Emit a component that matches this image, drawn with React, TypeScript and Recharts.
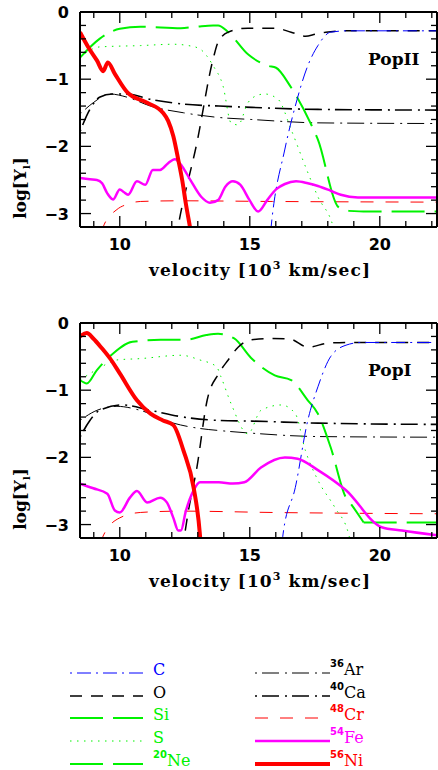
import React from "react";
import { LineChart, Line, XAxis, YAxis } from "recharts";

type Pt = [number, number];

// ---- PopII (top panel): [velocity 10^3 km/s, log Y] ----
const niII: Pt[] = [[8.47,-0.3],[8.83,-0.55],[9.12,-0.72],[9.36,-0.88],[9.54,-0.75],[9.81,-0.92],[10.3,-1.2],[11.05,-1.35],[11.66,-1.5],[11.86,-1.62],[12.06,-1.85],[12.25,-2.2],[12.4,-2.5],[12.54,-2.85],[12.7,-3.2],[12.79,-3.4]];
const feII: Pt[] = [[8.47,-2.47],[8.85,-2.49],[9.12,-2.5],[9.32,-2.55],[9.52,-2.7],[9.74,-2.79],[10.0,-2.64],[10.15,-2.68],[10.32,-2.72],[10.66,-2.52],[10.98,-2.57],[11.27,-2.35],[11.55,-2.35],[11.86,-2.25],[12.12,-2.19],[12.4,-2.3],[12.7,-2.49],[13.13,-2.75],[13.47,-2.84],[13.78,-2.8],[14.06,-2.6],[14.35,-2.52],[14.63,-2.57],[14.99,-2.8],[15.32,-2.97],[15.67,-2.8],[16.01,-2.64],[16.35,-2.56],[16.78,-2.52],[17.23,-2.55],[17.62,-2.59],[18.11,-2.66],[18.5,-2.72],[19.16,-2.76],[22.4,-2.76]];
const oII: Pt[] = [[12.15,-3.4],[12.24,-3.2],[12.97,-1.94],[13.59,-0.7],[13.78,-0.45],[14.17,-0.3],[14.93,-0.24],[15.96,-0.24],[16.59,-0.3],[17.14,-0.36],[17.53,-0.33],[17.92,-0.3],[18.8,-0.28],[22.4,-0.28]];
const cII: Pt[] = [[15.77,-3.4],[15.82,-3.2],[16.35,-2.04],[16.75,-1.4],[17.23,-0.8],[17.62,-0.5],[18.11,-0.3],[18.8,-0.28],[22.4,-0.28]];
const siII: Pt[] = [[8.47,-0.68],[9.22,-0.4],[10.0,-0.25],[10.79,-0.22],[12.35,-0.24],[12.94,-0.22],[13.59,-0.2],[13.78,-0.2],[14.17,-0.3],[14.93,-0.63],[15.7,-0.8],[16.01,-0.83],[16.55,-1.1],[17.33,-1.65],[17.62,-1.9],[18.4,-2.9],[18.8,-2.96]];
const neII: Pt[] = [[18.8,-2.96],[19.5,-2.97],[22.4,-2.97]];
const sII: Pt[] = [[8.47,-0.68],[8.73,-0.6],[9.22,-0.52],[10.79,-0.5],[12.06,-0.48],[12.64,-0.5],[13.08,-0.55],[13.59,-0.8],[13.97,-1.1],[14.28,-1.65],[14.55,-1.68],[14.93,-1.35],[15.23,-1.25],[15.57,-1.22],[16.09,-1.3],[16.59,-1.75],[17.14,-2.3],[17.62,-2.75],[18.21,-3.2],[18.31,-3.35]];
const caII: Pt[] = [[8.47,-1.78],[8.85,-1.45],[9.22,-1.27],[9.71,-1.22],[10.3,-1.22],[11.18,-1.3],[12.45,-1.37],[13.81,-1.4],[15.08,-1.42],[17.62,-1.45],[22.4,-1.46]];
const arII: Pt[] = [[8.47,-1.52],[8.98,-1.35],[9.61,-1.22],[10.3,-1.27],[11.18,-1.4],[12.45,-1.5],[13.81,-1.57],[15.08,-1.6],[17.62,-1.65],[22.4,-1.66]];
const crII: Pt[] = [[9.27,-3.3],[9.36,-3.2],[9.89,-2.94],[10.3,-2.86],[10.79,-2.82],[12.35,-2.81],[15.87,-2.82],[22.4,-2.83]];

// ---- PopI (bottom panel) ----
const niI: Pt[] = [[8.47,-0.2],[8.73,-0.15],[8.98,-0.23],[9.32,-0.38],[9.61,-0.52],[10.0,-0.75],[10.66,-1.15],[11.18,-1.35],[11.66,-1.45],[12.06,-1.52],[12.45,-1.9],[12.84,-2.45],[13.08,-3.14],[13.13,-3.4]];
const feI: Pt[] = [[8.47,-2.39],[8.98,-2.46],[9.52,-2.54],[9.81,-2.79],[10.0,-2.82],[10.39,-2.6],[10.66,-2.5],[11.05,-2.67],[11.55,-2.6],[11.81,-2.67],[12.06,-2.9],[12.25,-3.09],[12.35,-3.09],[12.54,-2.8],[12.84,-2.49],[13.08,-2.37],[13.81,-2.37],[14.35,-2.39],[14.79,-2.37],[15.43,-2.15],[16.35,-2.0],[16.84,-2.02],[17.62,-2.19],[18.7,-2.49],[20.07,-3.04],[20.85,-3.09],[22.4,-3.17]];
const oI: Pt[] = [[12.4,-3.4],[12.62,-2.84],[12.97,-2.14],[13.36,-1.15],[13.81,-0.75],[14.17,-0.55],[14.55,-0.36],[15.05,-0.25],[15.82,-0.23],[16.55,-0.24],[17.23,-0.36],[18.02,-0.3],[18.8,-0.29],[22.4,-0.29]];
const cI: Pt[] = [[16.21,-3.4],[16.28,-3.14],[16.75,-2.45],[17.23,-1.45],[17.62,-0.95],[18.11,-0.5],[18.7,-0.33],[19.29,-0.29],[22.4,-0.29]];
const siI: Pt[] = [[8.47,-0.85],[8.73,-0.9],[9.12,-0.7],[9.61,-0.5],[10.49,-0.28],[11.57,-0.25],[12.54,-0.25],[13.33,-0.18],[13.78,-0.16],[14.4,-0.23],[15.05,-0.52],[15.96,-0.78],[16.59,-0.85],[17.23,-1.15],[17.62,-1.35],[18.11,-1.85],[18.7,-2.6],[18.9,-2.7],[19.38,-2.97]];
const neI: Pt[] = [[19.38,-2.97],[22.4,-2.97]];
const sI: Pt[] = [[8.47,-0.85],[9.22,-0.67],[9.89,-0.55],[10.79,-0.53],[12.35,-0.48],[13.08,-0.55],[13.72,-0.65],[13.89,-0.8],[14.28,-1.2],[14.93,-1.65],[15.43,-1.3],[16.21,-1.22],[16.75,-1.35],[17.14,-1.9],[17.62,-2.34],[18.28,-2.75],[18.8,-3.14],[18.9,-3.3]];
const caI: Pt[] = [[8.47,-1.7],[8.85,-1.45],[9.22,-1.3],[10.1,-1.22],[11.18,-1.3],[12.45,-1.4],[13.81,-1.45],[15.08,-1.46],[17.62,-1.49],[22.4,-1.51]];
const arI: Pt[] = [[8.47,-1.45],[9.12,-1.3],[9.89,-1.24],[10.79,-1.3],[12.06,-1.49],[13.08,-1.57],[13.81,-1.6],[15.08,-1.64],[17.62,-1.69],[22.4,-1.7]];
const crI: Pt[] = [[9.27,-3.3],[9.36,-3.17],[10.0,-2.9],[10.79,-2.82],[12.35,-2.8],[15.87,-2.82],[22.4,-2.84]];

const xTicks = [9, 10, 11, 12, 13, 14, 15, 16, 17, 18, 19, 20, 21, 22];
const yTicks = [0, -0.2, -0.4, -0.6, -0.8, -1, -1.2, -1.4, -1.6, -1.8, -2, -2.2, -2.4, -2.6, -2.8, -3, -3.2];

const GREEN = "#00f200";
const BLUE = "#0000ff";
const RED = "#ff0000";
const MAGENTA = "#ff00ff";

type Style = { color: string; width: number; dash?: string };
const st: Record<string, Style> = {
  C: { color: BLUE, width: 1, dash: "2 5 14 5" },
  O: { color: "#000", width: 1.5, dash: "12 9" },
  Si: { color: GREEN, width: 2, dash: "33 10" },
  S: { color: GREEN, width: 1, dash: "1.5 5.5" },
  Ne: { color: GREEN, width: 2, dash: "33 10" },
  Ar: { color: "#000", width: 1, dash: "2 5 17 6" },
  Ca: { color: "#000", width: 1.6, dash: "2 5 17 6" },
  Cr: { color: RED, width: 1, dash: "13 12" },
  Fe: { color: MAGENTA, width: 2.5 },
  Ni: { color: RED, width: 4 },
};

const drawOrder = ["Cr", "Ar", "Ca", "S", "Ne", "Si", "O", "C", "Fe", "Ni"];

const popII: Record<string, Pt[]> = { C: cII, O: oII, Si: siII, S: sII, Ne: neII, Ar: arII, Ca: caII, Cr: crII, Fe: feII, Ni: niII };
const popI: Record<string, Pt[]> = { C: cI, O: oI, Si: siI, S: sI, Ne: neI, Ar: arI, Ca: caI, Cr: crI, Fe: feI, Ni: niI };

const pts = (a: Pt[]) => a.map(([x, y]) => ({ x, y }));
const fmt = (v: number) => (v < 0 ? "\u2212" + Math.abs(v) : String(v));
const TICK_FONT = "DejaVu Sans";
const TITLE_FONT = "DejaVu Serif";

function XTick(props: any) {
  const { x, y, payload, side } = props;
  const v = payload.value;
  const major = v % 5 === 0;
  const len = major ? 11 : 6;
  const dir = side === "bottom" ? -1 : 1;
  return (
    <g>
      <line x1={x} y1={y} x2={x} y2={y + dir * len} stroke="#000" strokeWidth={1.3} />
      {side === "bottom" && major && (
        <text x={x} y={y + 23} textAnchor="middle" fontFamily={TICK_FONT} fontWeight="bold" fontSize={16} fill="#000">
          {v}
        </text>
      )}
    </g>
  );
}

function YTick(props: any) {
  const { x, y, payload, side } = props;
  const v = payload.value;
  const major = Math.abs(v - Math.round(v)) < 1e-6;
  const len = major ? 11 : 6;
  const dir = side === "left" ? 1 : -1;
  return (
    <g>
      <line x1={x} y1={y} x2={x + dir * len} y2={y} stroke="#000" strokeWidth={1.3} />
      {side === "left" && major && (
        <text x={x - 11} y={y + 6} textAnchor="end" fontFamily={TICK_FONT} fontWeight="bold" fontSize={16} fill="#000">
          {fmt(Math.round(v))}
        </text>
      )}
    </g>
  );
}

const frame = { stroke: "#000", strokeWidth: 2 };

function Panel({ top, data }: { top: number; data: Record<string, Pt[]> }) {
  return (
    <div style={{ position: "absolute", left: 0, top, width: 438, height: 300 }}>
      <LineChart width={438} height={300} margin={{ top: 11, right: 0, bottom: 0, left: 0 }}>
        <XAxis xAxisId="b" dataKey="x" type="number" orientation="bottom" domain={[8.47, 22.2]} allowDataOverflow ticks={xTicks} interval={0} tickSize={0} tickMargin={0} height={73} axisLine={frame} tickLine={false} tick={(p: any) => <XTick {...p} side="bottom" />} />
        <XAxis xAxisId="t" dataKey="x" type="number" orientation="top" domain={[8.47, 22.2]} allowDataOverflow ticks={xTicks} interval={0} tickSize={0} tickMargin={0} height={1} axisLine={frame} tickLine={false} tick={(p: any) => <XTick {...p} side="top" />} />
        <YAxis yAxisId="l" type="number" orientation="left" domain={[-3.2, 0]} allowDataOverflow ticks={yTicks} interval={0} tickSize={0} tickMargin={0} width={80} axisLine={frame} tickLine={false} tick={(p: any) => <YTick {...p} side="left" />} />
        <YAxis yAxisId="r" type="number" orientation="right" domain={[-3.2, 0]} allowDataOverflow ticks={yTicks} interval={0} tickSize={0} tickMargin={0} width={1} axisLine={frame} tickLine={false} tick={(p: any) => <YTick {...p} side="right" />} />
        {drawOrder.map((k) => (
          <Line
            key={k}
            xAxisId="b"
            yAxisId="l"
            data={pts(data[k])}
            dataKey="y"
            type="monotone"
            stroke={st[k].color}
            strokeWidth={st[k].width}
            strokeDasharray={st[k].dash}
            dot={false}
            activeDot={false}
            isAnimationActive={false}
          />
        ))}
      </LineChart>
    </div>
  );
}

const legendLeft = [
  { k: "C", mass: "", name: "C", color: BLUE },
  { k: "O", mass: "", name: "O", color: "#000" },
  { k: "Si", mass: "", name: "Si", color: GREEN },
  { k: "S", mass: "", name: "S", color: GREEN },
  { k: "Ne", mass: "20", name: "Ne", color: GREEN },
];
const legendRight = [
  { k: "Ar", mass: "36", name: "Ar", color: "#000" },
  { k: "Ca", mass: "40", name: "Ca", color: "#000" },
  { k: "Cr", mass: "48", name: "Cr", color: RED },
  { k: "Fe", mass: "54", name: "Fe", color: MAGENTA },
  { k: "Ni", mass: "56", name: "Ni", color: RED },
];
const legendRows = [673, 696, 718, 741, 764];

function LegendItem({ item, x0, x1, y }: any) {
  const s = st[item.k];
  return (
    <g>
      <line x1={x0} y1={y} x2={x1} y2={y} stroke={s.color} strokeWidth={s.width} strokeDasharray={s.dash} />
      <text x={x1 + 10 - (item.mass && x1 > 200 ? 10 : 0)} y={y + 2} fontFamily={TITLE_FONT} fontSize={16} fill={item.color}>
        {item.mass && (
          <tspan fontFamily={TICK_FONT} fontWeight="bold" fontSize={10} dy={-8}>
            {item.mass}
          </tspan>
        )}
        <tspan dy={item.mass ? 8 : 0}>{item.name}</tspan>
      </text>
    </g>
  );
}

function Overlay() {
  const titles = [0, 311];
  return (
    <svg width={438} height={770} style={{ position: "absolute", left: 0, top: 0, pointerEvents: "none" }}>
      {titles.map((d) => (
        <g key={d}>
          <text x={260} y={276 + d} textAnchor="middle" fontFamily={TITLE_FONT} fontWeight="bold" fontSize={17} letterSpacing={1.1} fill="#000">
            velocity [10<tspan fontSize={11} dy={-7}>3</tspan>
            <tspan dy={7}> km/sec]</tspan>
          </text>
          <text transform={`translate(26 ${188 + d}) rotate(-90)`} textAnchor="middle" fontFamily={TITLE_FONT} fontWeight="bold" fontSize={17} fill="#000">
            log[Y<tspan fontSize={10} dy={4}>l</tspan>
            <tspan dy={-4}>]</tspan>
          </text>
        </g>
      ))}
      <text x={368} y={65} fontFamily={TITLE_FONT} fontWeight="bold" fontSize={17} fill="#000">PopII</text>
      <text x={368} y={376} fontFamily={TITLE_FONT} fontWeight="bold" fontSize={17} fill="#000">PopI</text>
      {legendLeft.map((it, i) => (
        <LegendItem key={it.k} item={it} x0={70} x1={143} y={legendRows[i]} />
      ))}
      {legendRight.map((it, i) => (
        <LegendItem key={it.k} item={it} x0={255} x1={330} y={legendRows[i]} />
      ))}
    </svg>
  );
}

export default function App() {
  return (
    <div style={{ position: "absolute", left: 0, top: 0, width: 438, height: 770, background: "#fff" }}>
      <Panel top={0} data={popII} />
      <Panel top={311} data={popI} />
      <Overlay />
    </div>
  );
}
